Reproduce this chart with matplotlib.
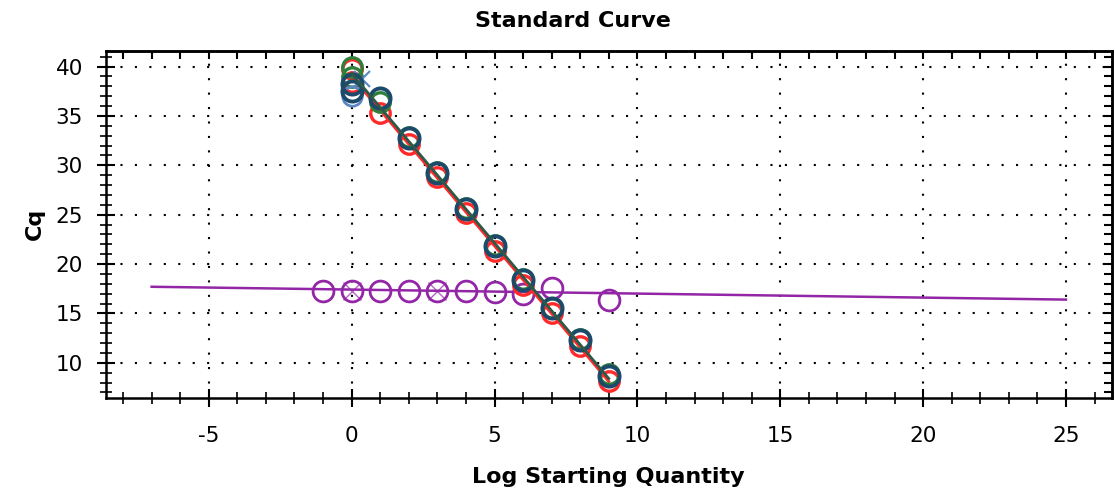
import numpy as np
import matplotlib
matplotlib.use("Agg")
import matplotlib.pyplot as plt
from matplotlib.ticker import MultipleLocator

plt.rcParams["font.family"] = ["DejaVu Sans"]
plt.rcParams["lines.scale_dashes"] = False
plt.rcParams["axes.unicode_minus"] = False

# standard curve replicates (log quantity, Cq)
navy_x = [0, 0, 1, 2, 3, 4, 5, 6, 7, 8, 9]
navy_cq = [38.2, 37.5, 36.8, 32.8, 29.2, 25.6, 21.8, 18.4, 15.5, 12.3, 8.7]
red_x = [0, 0, 1, 2, 3, 4, 5, 6, 7, 8, 9]
red_cq = [39.8, 38.4, 35.3, 32.2, 28.8, 25.2, 21.3, 17.9, 15.0, 11.7, 8.2]
green_x = [0, 0, 1, 2, 3, 4, 5, 6, 7, 8, 9]
green_cq = [40.0, 38.9, 36.4, 32.9, 29.3, 25.7, 21.9, 18.5, 15.6, 12.4, 8.9]
blue_x = [0]
blue_cq = [37.0]
blue_cross_x = [0.35]
blue_cross_cq = [38.7]

# fitted standard curve lines
fit_x = [0, 9]
fit_green_cq = [39.3, 8.4]
fit_red_cq = [39.0, 8.1]

# purple series (flat)
purple_x = [-1, 0, 1, 2, 3, 4, 5, 6, 7, 9]
purple_cq = [17.3, 17.3, 17.3, 17.3, 17.3, 17.3, 17.2, 17.0, 17.6, 16.4]
purple_cross_x = [0, 3]
purple_cross_cq = [17.3, 17.3]
purple_fit_x = [-7, 25]
purple_fit_cq = [17.7, 16.4]

fig = plt.figure(figsize=(11.15, 4.93), dpi=100)
ax = fig.add_axes([0.095, 0.193, 0.902, 0.704])

navy = "#1c4a6a"
red = "#ff2a2a"
green = "#2f7f3a"
blue = "#5b86c4"
purple = "#9326a6"

# grid dots
dots = (0, (1.5, 8.9))
for gx in [-5, 0, 5, 10, 15, 20, 25]:
    ax.axvline(gx, color="black", lw=1.5, ls=dots, zorder=0)
for gy in [10, 15, 20, 25, 30, 35, 40]:
    ax.axhline(gy, color="black", lw=1.5, ls=dots, zorder=0)

ax.plot(purple_fit_x, purple_fit_cq, color=purple, lw=1.8, zorder=1)
ax.plot(purple_cross_x, purple_cross_cq, "x", color=purple, ms=13, mew=1.0, alpha=0.7, zorder=2)
ax.plot(purple_x, purple_cq, "o", mfc="none", mec=purple, ms=15, mew=2.0, zorder=2)

ax.plot(fit_x, fit_red_cq, color=red, lw=2, zorder=3)
ax.plot(red_x, red_cq, "o", mfc="none", mec=red, ms=14, mew=2.4, zorder=4)
ax.plot(green_x, green_cq, "o", mfc="none", mec=green, ms=14, mew=2.4, zorder=5)
ax.plot(blue_x, blue_cq, "o", mfc="none", mec=blue, ms=14, mew=2.0, zorder=5)
ax.plot(blue_cross_x, blue_cross_cq, "x", color=blue, ms=12, mew=1.5, zorder=5)
ax.plot(navy_x, navy_cq, "o", mfc="none", mec=navy, ms=14.5, mew=2.8, zorder=6)
ax.plot(fit_x, fit_green_cq, color="#2d5a48", lw=2, zorder=7)

ax.set_xlim(-8.6, 26.6)
ax.set_ylim(6.45, 41.6)
ax.xaxis.set_major_locator(MultipleLocator(5))
ax.xaxis.set_minor_locator(MultipleLocator(1))
ax.yaxis.set_major_locator(MultipleLocator(5))
ax.yaxis.set_minor_locator(MultipleLocator(1))
ax.tick_params(which="major", direction="inout", length=13, width=1.5, labelsize=15.5)
ax.tick_params(axis="x", which="major", pad=14)
ax.tick_params(axis="y", which="major", pad=10)
ax.tick_params(which="minor", direction="inout", length=8, width=1.2)

top = ax.secondary_xaxis("top")
top.xaxis.set_major_locator(MultipleLocator(1))
top.tick_params(direction="in", length=6, width=1.5, labeltop=False)
right = ax.secondary_yaxis("right")
right.yaxis.set_major_locator(MultipleLocator(1))
right.tick_params(direction="in", length=6, width=1.5, labelright=False)

for sp in ax.spines.values():
    sp.set_linewidth(1.8)
top.spines["top"].set_linewidth(1.8)
right.spines["right"].set_linewidth(1.8)

fig.text(0.514, 0.958, "Standard Curve", fontsize=16, fontweight="bold", ha="center", va="center")
ax.set_xlabel("Log Starting Quantity", fontsize=16, fontweight="bold", labelpad=15)
ax.set_ylabel("Cq", fontsize=16, fontweight="bold", labelpad=8)

fig.savefig("out.png", dpi=100)
